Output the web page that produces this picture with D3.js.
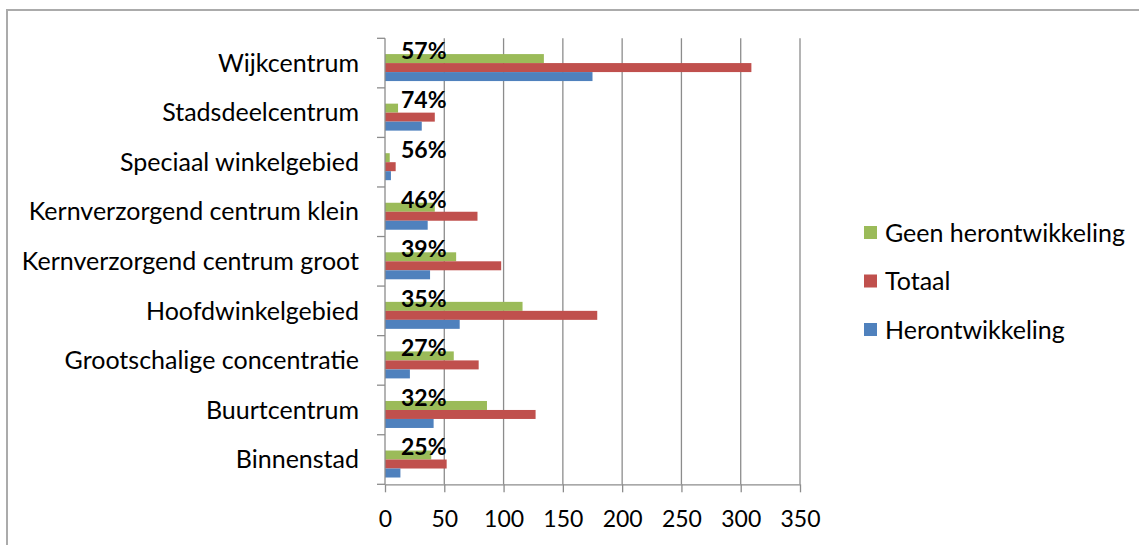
<!DOCTYPE html>
<html>
<head>
<meta charset="utf-8">
<script src="https://cdn.jsdelivr.net/npm/d3@7"></script>
<style>
  html, body { margin: 0; padding: 0; background: #fff; }
  svg { display: block; }
  text { font-family: Lato, "Open Sans", sans-serif; fill: #000; }
</style>
</head>
<body>
<svg id="chart" width="1139" height="545"></svg>
<script>
const categories = [
  "Wijkcentrum",
  "Stadsdeelcentrum",
  "Speciaal winkelgebied",
  "Kernverzorgend centrum klein",
  "Kernverzorgend centrum groot",
  "Hoofdwinkelgebied",
  "Grootschalige concentratie",
  "Buurtcentrum",
  "Binnenstad"
];
const geenHerontwikkeling = [134, 11, 4, 42, 60, 116, 58, 86, 39];
const totaal = [309, 42, 9, 78, 98, 179, 79, 127, 52];
const herontwikkeling = [175, 31, 5, 36, 38, 63, 21, 41, 13];
const percentLabels = ["57%", "74%", "56%", "46%", "39%", "35%", "27%", "32%", "25%"];
const xTicks = [0, 50, 100, 150, 200, 250, 300, 350];

const series = [
  { key: "geen", name: "Geen herontwikkeling", color: "#9BBB59", values: geenHerontwikkeling },
  { key: "totaal", name: "Totaal", color: "#C0504D", values: totaal },
  { key: "heront", name: "Herontwikkeling", color: "#4F81BD", values: herontwikkeling }
];

const svg = d3.select("#chart");
const labelSize = 25;
const tickSize = 23;
const gridColor = "#8c8c8c";

// outer chart frame (runs off the right and bottom edge like the original)
svg.append("rect")
  .attr("x", 7).attr("y", 10)
  .attr("width", 1200).attr("height", 600)
  .attr("fill", "none")
  .attr("stroke", "#ababab")
  .attr("stroke-width", 2);

const plot = { left: 385, right: 800, top: 38.3, bottom: 484.3 };

const x = d3.scaleLinear().domain([0, 350]).range([plot.left, plot.right]);
const y = d3.scaleBand().domain(categories).range([plot.top, plot.bottom])
  .paddingInner(0.274).paddingOuter(0.137);
// first slot holds the (invisible) percentage series
const slot = d3.scaleBand().domain(["pct", "geen", "totaal", "heront"]).range([0, y.bandwidth()]);

// gridlines
svg.append("g").selectAll("line")
  .data(xTicks.slice(1))
  .join("line")
  .attr("x1", d => x(d)).attr("x2", d => x(d))
  .attr("y1", plot.top).attr("y2", plot.bottom)
  .attr("stroke", gridColor).attr("stroke-width", 1.3);

// bars
const barG = svg.append("g");
series.forEach(s => {
  barG.append("g").selectAll("rect")
    .data(categories.map((c, i) => ({ cat: c, value: s.values[i] })))
    .join("rect")
    .attr("x", x(0))
    .attr("y", d => y(d.cat) + slot(s.key))
    .attr("width", d => x(d.value) - x(0))
    .attr("height", slot.bandwidth())
    .attr("fill", s.color);
});

// axes
const xAxis = svg.append("g")
  .attr("transform", `translate(0,${plot.bottom})`)
  .call(d3.axisBottom(x).tickValues(xTicks).tickSize(8).tickSizeOuter(0).tickPadding(18));
xAxis.select(".domain").attr("stroke", gridColor).attr("stroke-width", 1.3);
xAxis.selectAll(".tick line").attr("stroke", gridColor).attr("stroke-width", 1.3);
xAxis.selectAll(".tick text")
  .attr("font-size", tickSize)
  .style("font-family", "Lato, sans-serif")
  .attr("fill", "#000");

svg.append("line")
  .attr("x1", plot.left).attr("x2", plot.left)
  .attr("y1", plot.top).attr("y2", plot.bottom)
  .attr("stroke", gridColor).attr("stroke-width", 1.3);

const boundaries = d3.range(categories.length + 1).map(i => plot.top + i * (plot.bottom - plot.top) / categories.length);
svg.append("g").selectAll("line")
  .data(boundaries)
  .join("line")
  .attr("x1", plot.left - 8).attr("x2", plot.left)
  .attr("y1", d => d).attr("y2", d => d)
  .attr("stroke", gridColor).attr("stroke-width", 1.3);

// category labels
svg.append("g").selectAll("text")
  .data(categories)
  .join("text")
  .attr("x", 359)
  .attr("y", d => y(d) + y.bandwidth() / 2)
  .attr("dy", "0.35em")
  .attr("text-anchor", "end")
  .attr("font-size", labelSize)
  .text(d => d);

// percentage labels on the hidden series
svg.append("g").selectAll("text")
  .data(categories.map((c, i) => ({ cat: c, label: percentLabels[i] })))
  .join("text")
  .attr("x", x(0) + 16)
  .attr("y", d => y(d.cat) + slot("pct") + slot.bandwidth() / 2 + 1)
  .attr("dy", "0.36em")
  .attr("font-size", tickSize)
  .attr("font-weight", "bold")
  .text(d => d.label);

// legend
const legend = svg.append("g").selectAll("g")
  .data(series)
  .join("g")
  .attr("transform", (d, i) => `translate(864,${233 + i * 48.5})`);
legend.append("rect")
  .attr("x", 0).attr("y", -7)
  .attr("width", 13).attr("height", 13)
  .attr("fill", d => d.color);
legend.append("text")
  .attr("x", 21)
  .attr("y", 0)
  .attr("dy", "0.35em")
  .attr("font-size", labelSize)
  .text(d => d.name);
</script>
</body>
</html>
